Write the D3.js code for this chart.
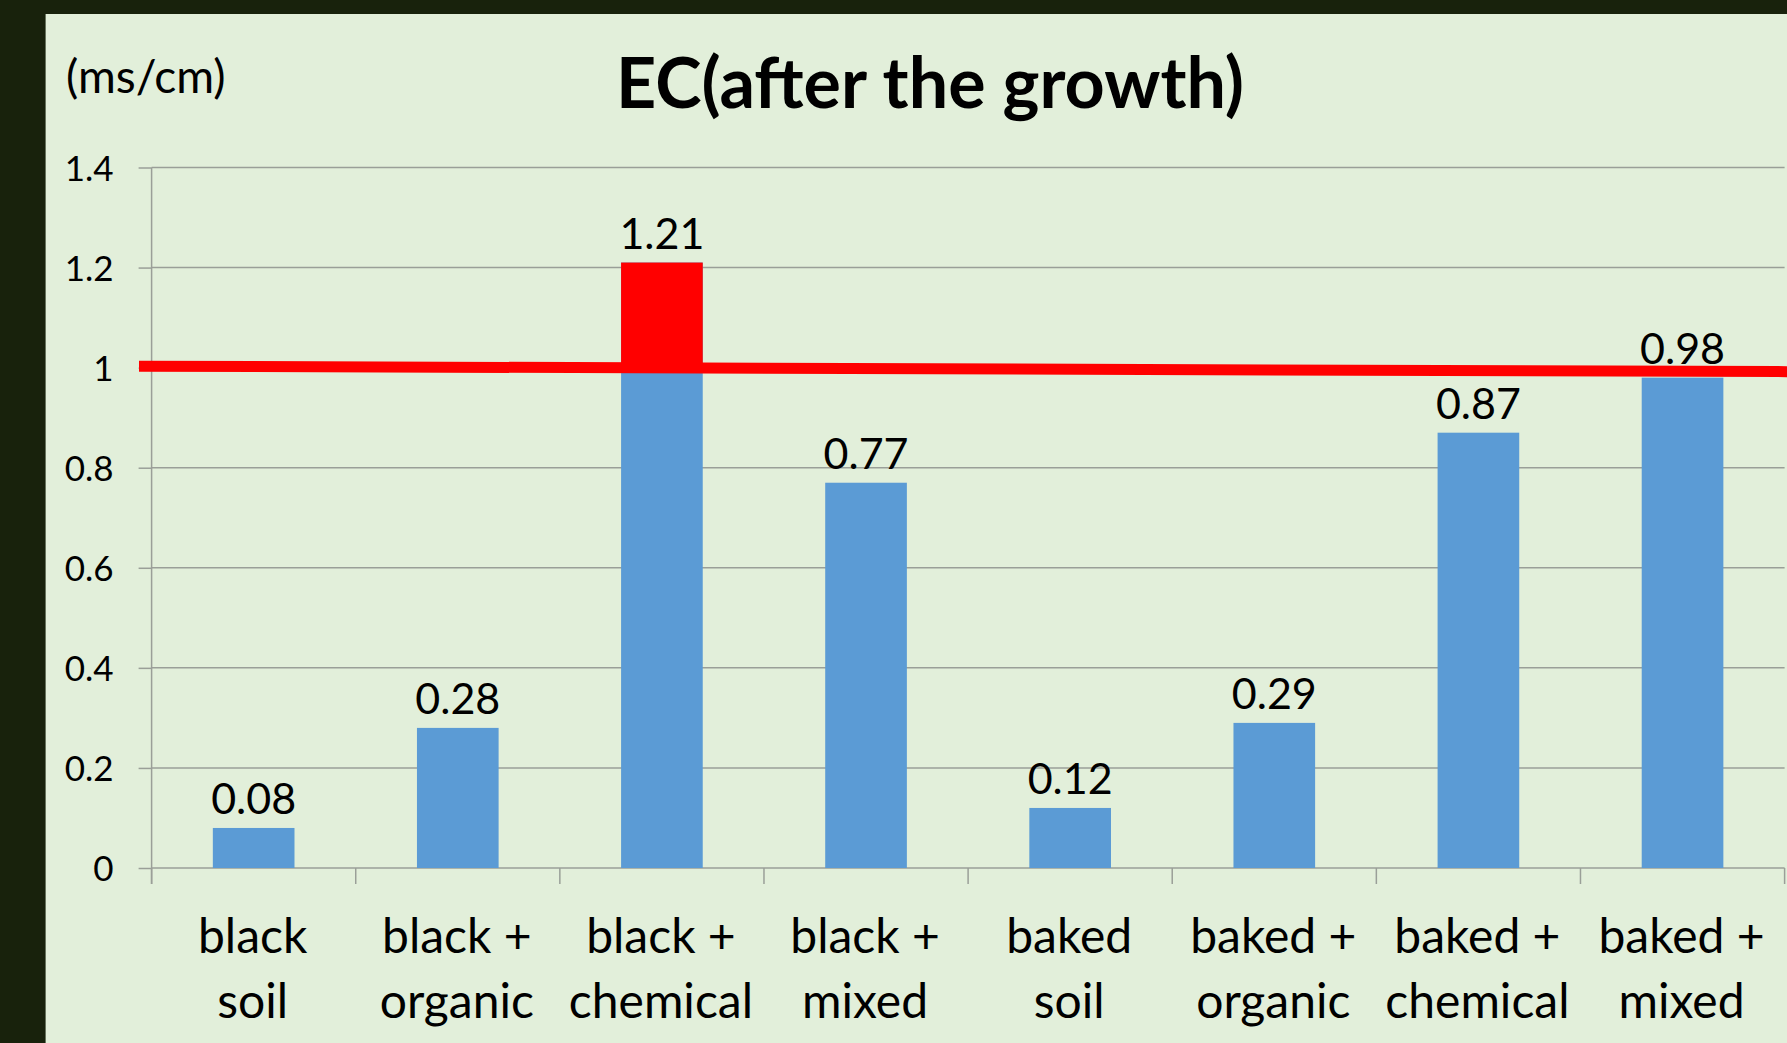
<!DOCTYPE html>
<html>
<head>
<meta charset="utf-8">
<script src="https://cdn.jsdelivr.net/npm/d3@7"></script>
<style>
  body { margin: 0; background: #18220c; }
  svg { display: block; }
</style>
</head>
<body>
<div id="chart"></div>
<script>
// categories, two lines each
var categories = ["black soil", "black + organic", "black + chemical", "black + mixed",
                  "baked soil", "baked + organic", "baked + chemical", "baked + mixed"];
var categoryLines = [["black", "soil"], ["black +", "organic"], ["black +", "chemical"], ["black +", "mixed"],
                     ["baked", "soil"], ["baked +", "organic"], ["baked +", "chemical"], ["baked +", "mixed"]];
var ecValues = [0.08, 0.28, 1.21, 0.77, 0.12, 0.29, 0.87, 0.98];
var yTicks = [0, 0.2, 0.4, 0.6, 0.8, 1, 1.2, 1.4];
// hand drawn limit line, a touch higher on the left than on the right
var limitStart = 1.003, limitEnd = 0.992, limit = 1;

var W = 1787, H = 1043;
var svg = d3.select("#chart").append("svg").attr("width", W).attr("height", H);

svg.append("rect").attr("width", W).attr("height", H).attr("fill", "#18220c");
svg.append("rect").attr("x", 45.6).attr("y", 14).attr("width", W - 45.6).attr("height", H - 14)
   .attr("fill", "#e2efda");

var x = d3.scaleBand().domain(categories).range([151.6, 1784.6]).paddingInner(0.6).paddingOuter(0.3);
var y = d3.scaleLinear().domain([0, 1.4]).range([868, 167.5]);

var font = "Lato, 'Open Sans', sans-serif";

// gridlines
svg.selectAll(".grid").data(yTicks.slice(1)).enter().append("line")
   .attr("x1", 151.6).attr("x2", 1784.6)
   .attr("y1", function (d) { return y(d); }).attr("y2", function (d) { return y(d); })
   .attr("stroke", "#9a9f98").attr("stroke-width", 1.5);

// y axis
var yAxis = d3.axisLeft(y).tickValues(yTicks).tickSize(13).tickPadding(25)
   .tickFormat(function (d) { return d3.format("")(+d.toFixed(1)); });
var gy = svg.append("g").attr("transform", "translate(151.6,0)").call(yAxis);
gy.select(".domain").attr("d", "M0," + y(1.4) + "V884").attr("stroke", "#9a9f98").attr("stroke-width", 1.5).attr("fill", "none");
gy.selectAll(".tick line").attr("stroke", "#9a9f98").attr("stroke-width", 1.5);
gy.selectAll(".tick text").attr("font-family", font).attr("font-size", 35).attr("fill", "#000")
   .attr("dy", "0.36em");

// x axis baseline and ticks between categories
svg.append("line").attr("x1", 151.6).attr("x2", 1784.6).attr("y1", y(0)).attr("y2", y(0))
   .attr("stroke", "#9a9f98").attr("stroke-width", 1.5);
var step = x.step();
svg.selectAll(".xtick").data(d3.range(categories.length + 1)).enter().append("line")
   .attr("x1", function (i) { return 151.6 + i * step; })
   .attr("x2", function (i) { return 151.6 + i * step; })
   .attr("y1", y(0)).attr("y2", y(0) + 16)
   .attr("stroke", "#9a9f98").attr("stroke-width", 1.5);

// bars
svg.selectAll(".bar").data(ecValues).enter().append("rect")
   .attr("x", function (d, i) { return x(categories[i]); })
   .attr("y", function (d) { return y(d); })
   .attr("width", x.bandwidth())
   .attr("height", function (d) { return y(0) - y(d); })
   .attr("fill", "#5b9bd5");

// part above the limit in red
svg.selectAll(".over").data(ecValues.map(function (d, i) { return { v: d, c: categories[i] }; })
     .filter(function (d) { return d.v > limit; })).enter().append("rect")
   .attr("x", function (d) { return x(d.c); })
   .attr("y", function (d) { return y(d.v); })
   .attr("width", x.bandwidth())
   .attr("height", function (d) { return y(limit) - y(d.v); })
   .attr("fill", "#ff0000");

// value labels
svg.selectAll(".val").data(ecValues).enter().append("text")
   .attr("x", function (d, i) { return x(categories[i]) + x.bandwidth() / 2; })
   .attr("y", function (d) { return y(d) - 14; })
   .attr("text-anchor", "middle").attr("font-family", font).attr("font-size", 43).attr("fill", "#000")
   .text(function (d) { return d3.format(".2f")(d); });

// limit line
svg.append("line").attr("x1", 139).attr("x2", W)
   .attr("y1", y(limitStart)).attr("y2", y(limitEnd))
   .attr("stroke", "#ff0000").attr("stroke-width", 11);

// category labels
var cl = svg.selectAll(".cat").data(categoryLines).enter().append("text")
   .attr("text-anchor", "middle").attr("font-family", font).attr("font-size", 48).attr("fill", "#000");
cl.each(function (lines, i) {
  var t = d3.select(this);
  lines.forEach(function (s, j) {
    t.append("tspan").attr("x", x(categories[i]) + x.bandwidth() / 2 - 1).attr("y", 953 + j * 65).text(s);
  });
});

// title and unit
svg.append("text").attr("x", 930).attr("y", 108).attr("text-anchor", "middle")
   .attr("font-family", font).attr("font-weight", "bold").attr("font-size", 70).attr("fill", "#000")
   .text("EC(after the growth)");
svg.append("text").attr("x", 66).attr("y", 93)
   .attr("font-family", font).attr("font-size", 46).attr("fill", "#000")
   .text("(ms/cm)");
</script>
</body>
</html>
